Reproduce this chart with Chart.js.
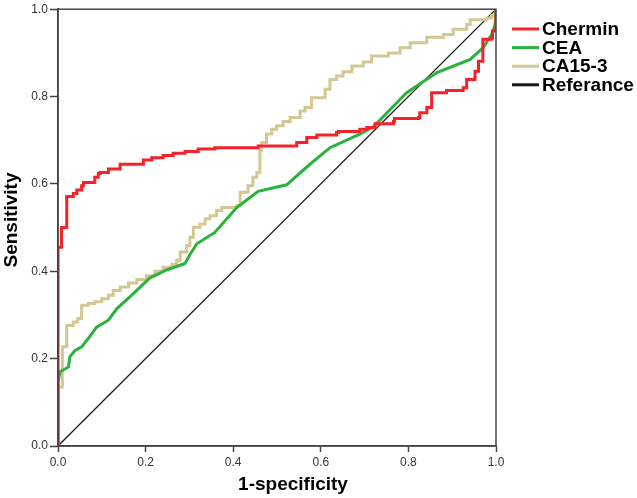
<!DOCTYPE html>
<html>
<head>
<meta charset="utf-8">
<script src="https://cdn.jsdelivr.net/npm/chart.js@4.4.1/dist/chart.umd.min.js"></script>
<style>
  html, body { margin: 0; padding: 0; background: #fff; }
  #wrap { width: 637px; height: 498px; }
</style>
</head>
<body>
<div id="wrap"><canvas id="roc" width="637" height="498"></canvas></div>
<script>
// ROC curves
const seriesNames = ["Chermin", "CEA", "CA15-3", "Referance"];

const chermX = [0, 0, 0.008, 0.02, 0.035, 0.043, 0.054, 0.058, 0.084, 0.092, 0.096, 0.115, 0.142, 0.195, 0.214, 0.24, 0.263, 0.29, 0.32, 0.358, 0.457, 0.545, 0.568, 0.591, 0.636, 0.64, 0.689, 0.705, 0.724, 0.766, 0.768, 0.823, 0.826, 0.842, 0.853, 0.887, 0.925, 0.933, 0.952, 0.96, 0.97, 0.99, 0.992, 1];
const chermY = [0, 0.455, 0.5, 0.571, 0.578, 0.586, 0.596, 0.603, 0.615, 0.624, 0.626, 0.634, 0.645, 0.655, 0.66, 0.665, 0.67, 0.674, 0.68, 0.683, 0.687, 0.695, 0.706, 0.712, 0.718, 0.72, 0.725, 0.729, 0.738, 0.743, 0.75, 0.752, 0.763, 0.775, 0.809, 0.814, 0.82, 0.839, 0.858, 0.881, 0.931, 0.934, 0.95, 1];

const ceaX = [0, 0, 0.005, 0.024, 0.027, 0.039, 0.054, 0.069, 0.088, 0.115, 0.134, 0.172, 0.21, 0.248, 0.29, 0.301, 0.317, 0.358, 0.408, 0.457, 0.522, 0.575, 0.621, 0.689, 0.72, 0.796, 0.865, 0.941, 0.971, 0.99, 0.998, 1];
const ceaY = [0, 0.147, 0.17, 0.181, 0.204, 0.219, 0.227, 0.246, 0.272, 0.288, 0.314, 0.349, 0.385, 0.403, 0.418, 0.438, 0.463, 0.489, 0.546, 0.583, 0.598, 0.645, 0.683, 0.714, 0.731, 0.809, 0.855, 0.885, 0.912, 0.942, 0.965, 1];

const caX = [0, 0, 0.01, 0.02, 0.035, 0.045, 0.054, 0.069, 0.084, 0.1, 0.115, 0.126, 0.142, 0.161, 0.18, 0.202, 0.221, 0.24, 0.26, 0.271, 0.279, 0.294, 0.301, 0.309, 0.324, 0.336, 0.347, 0.362, 0.374, 0.408, 0.416, 0.434, 0.445, 0.454, 0.461, 0.465, 0.476, 0.488, 0.499, 0.514, 0.53, 0.553, 0.564, 0.579, 0.61, 0.621, 0.636, 0.651, 0.671, 0.697, 0.716, 0.754, 0.781, 0.804, 0.842, 0.88, 0.902, 0.933, 0.941, 0.979, 0.99, 1];
const caY = [0, 0.135, 0.227, 0.276, 0.284, 0.292, 0.322, 0.326, 0.33, 0.337, 0.345, 0.356, 0.364, 0.373, 0.381, 0.39, 0.4, 0.409, 0.416, 0.425, 0.444, 0.459, 0.478, 0.501, 0.508, 0.52, 0.527, 0.539, 0.546, 0.55, 0.581, 0.596, 0.615, 0.626, 0.676, 0.695, 0.714, 0.725, 0.733, 0.743, 0.752, 0.767, 0.775, 0.797, 0.817, 0.839, 0.847, 0.857, 0.87, 0.879, 0.893, 0.9, 0.912, 0.923, 0.936, 0.942, 0.954, 0.965, 0.976, 0.98, 0.985, 1];

const refX = [0, 1];
const refY = [0, 1];

const tickValues = [0, 0.2, 0.4, 0.6, 0.8, 1.0];

const toPoints = (xs, ys) => xs.map((x, i) => ({ x: x, y: ys[i] }));

const FONT = "'Liberation Sans', Arial, sans-serif";

// box round the plot, axis titles and the legend on the right
const decorations = {
  id: "decorations",
  afterDraw(chart) {
    const ctx = chart.ctx;
    const a = chart.chartArea;
    ctx.save();
    ctx.strokeStyle = "#444";
    ctx.lineWidth = 1.5;
    ctx.strokeRect(a.left, a.top, a.right - a.left, a.bottom - a.top);

    ctx.fillStyle = "#000";
    ctx.font = "bold 19px " + FONT;
    ctx.textAlign = "center";
    ctx.textBaseline = "middle";
    ctx.fillText("1-specificity", 293, 485);
    ctx.save();
    ctx.translate(12, 220);
    ctx.rotate(-Math.PI / 2);
    ctx.fillText("Sensitivity", 0, 0);
    ctx.restore();

    ctx.textAlign = "left";
    chart.data.datasets.forEach((ds, i) => {
      const y = 29 + i * 18.6;
      ctx.strokeStyle = ds.borderColor;
      ctx.lineWidth = 3;
      ctx.beginPath();
      ctx.moveTo(512, y);
      ctx.lineTo(539, y);
      ctx.stroke();
      ctx.fillStyle = "#000";
      ctx.fillText(ds.label, 542, y + 1);
    });
    ctx.restore();
  }
};

new Chart(document.getElementById("roc"), {
  type: "line",
  data: {
    datasets: [
      {
        label: seriesNames[0],
        data: toPoints(chermX, chermY),
        borderColor: "#f5222a",
        borderWidth: 3,
        stepped: "before",
        pointRadius: 0
      },
      {
        label: seriesNames[1],
        data: toPoints(ceaX, ceaY),
        borderColor: "#28b33c",
        borderWidth: 3,
        tension: 0,
        pointRadius: 0
      },
      {
        label: seriesNames[2],
        data: toPoints(caX, caY),
        borderColor: "#d3c793",
        borderWidth: 3,
        stepped: "before",
        pointRadius: 0
      },
      {
        label: seriesNames[3],
        data: toPoints(refX, refY),
        borderColor: "#1a1a1a",
        borderWidth: 1.3,
        pointRadius: 0
      }
    ]
  },
  options: {
    responsive: false,
    animation: false,
    layout: { padding: { left: 0, right: 141, top: 8, bottom: 0 } },
    plugins: {
      legend: { display: false },
      tooltip: { enabled: false }
    },
    scales: {
      x: {
        type: "linear",
        min: 0,
        max: 1,
        afterBuildTicks: (scale) => { scale.ticks = tickValues.map((v) => ({ value: v })); },
        afterFit: (scale) => { scale.height = 52; },
        border: { display: true, color: "#444", width: 1.5 },
        grid: { drawOnChartArea: false, drawTicks: true, tickLength: 6, color: "#444", tickWidth: 1.5 },
        ticks: {
          color: "#333",
          padding: 3,
          font: { family: FONT, size: 12 },
          callback: (v) => Number(v).toFixed(1)
        }
      },
      y: {
        type: "linear",
        min: 0,
        max: 1,
        afterBuildTicks: (scale) => { scale.ticks = tickValues.map((v) => ({ value: v })); },
        afterFit: (scale) => { scale.width = 58; },
        border: { display: true, color: "#444", width: 1.5 },
        grid: { drawOnChartArea: false, drawTicks: true, tickLength: 8, color: "#444", tickWidth: 1.5 },
        ticks: {
          color: "#333",
          padding: 2,
          font: { family: FONT, size: 12 },
          callback: (v) => Number(v).toFixed(1)
        }
      }
    }
  },
  plugins: [decorations]
});
</script>
</body>
</html>
